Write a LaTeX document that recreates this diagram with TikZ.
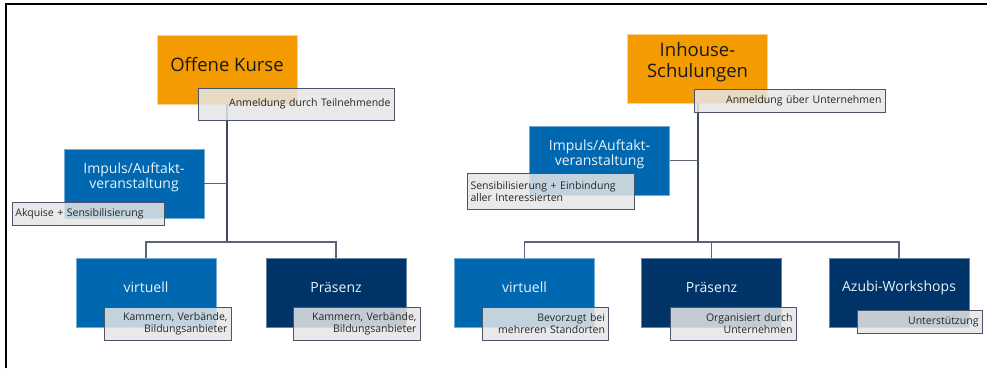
\documentclass[tikz,border=0pt]{standalone}
\usepackage{fontspec}
\setmainfont{Open Sans}
\definecolor{kursorange}{HTML}{F39B00}
\definecolor{kursblau}{HTML}{0067B1}
\definecolor{kursnavy}{HTML}{003469}
\definecolor{notizgrau}{HTML}{E6E6E6}
\definecolor{notizrand}{HTML}{4B5468}
\definecolor{linie}{HTML}{3E4A5C}
\definecolor{astlinie}{HTML}{5C6573}
\tikzset{
  box/.style={rectangle, minimum width=140pt, minimum height=69pt, inner sep=0pt},
  topbox/.style={box, fill=kursorange, draw=kursorange!45!white, line width=0.8pt},
  bluebox/.style={box, fill=kursblau, draw=kursblau!55!white, line width=0.8pt},
  navybox/.style={box, fill=kursnavy, draw=kursnavy!60!white, line width=0.8pt},
  toptext/.style={font=\fontsize{18.5}{21}\selectfont, text=black!90, align=center, inner sep=0pt},
  boxtext/.style={font=\fontsize{14}{15}\selectfont, text=white!92!kursblau, align=center, inner sep=0pt},
  note/.style={rectangle, fill=notizgrau, fill opacity=0.85, text opacity=1, draw=notizrand,
    line width=1pt, inner xsep=3.5pt, inner ysep=0pt, text=black!85,
    font=\fontsize{10.5}{12}\selectfont},
  noteR/.style={note, align=right},
  noteL/.style={note, align=left},
  trunk/.style={draw=linie, line width=2pt},
  branch/.style={draw=astlinie, line width=1.2pt},
}
\begin{document}
\begin{tikzpicture}[x=1pt, y=-1pt]
\useasboundingbox (0,0) rectangle (987,368);
\fill[white] (0,0) rectangle (987,368);

% anchor points of the horizontal bars
\coordinate (barL) at (227,242);
\coordinate (barR) at (697.5,242);

% ---------- Offene Kurse: boxes ----------
\node[topbox, label={[toptext, yshift=5pt, name=okT]center:Offene Kurse}] (ok) at (227,69.5) {};
\node[bluebox, label={[boxtext, yshift=6pt, name=impLT]center:Impuls/Auftakt-\\veranstaltung}] (impL) at (134,183.5) {};
\node[bluebox, label={[boxtext, yshift=5pt, name=virLT]center:virtuell}] (virL) at (146,292.5) {};
\node[navybox, label={[boxtext, yshift=5pt, name=praLT]center:Präsenz}] (praL) at (336,292.5) {};

% ---------- Inhouse-Schulungen: boxes ----------
\node[topbox, label={[toptext, yshift=6pt, name=ihT]center:Inhouse-\\Schulungen}] (ih) at (697.5,68.5) {};
\node[bluebox, label={[boxtext, yshift=6pt, name=impRT]center:Impuls/Auftakt-\\veranstaltung}] (impR) at (599.5,160.5) {};
\node[bluebox, label={[boxtext, yshift=5pt, name=virRT]center:virtuell}] (virR) at (524.5,292.5) {};
\node[navybox, label={[boxtext, yshift=5pt, name=praRT]center:Präsenz}] (praR) at (711.5,292.5) {};
\node[navybox, label={[boxtext, yshift=5pt, name=azuT]center:Azubi-Workshops}] (azu) at (899,292.5) {};

% ---------- connectors (drawn over boxes, under notes) ----------
\draw[trunk] (ok.south) -- (barL);
\draw[branch] (impL.east) -- (impL.east -| barL);
\draw[branch] (virL.north) |- (barL) -| (praL.north);

\draw[trunk] (ih.south) -- (barR);
\draw[branch] (impR.east) -- (impR.east -| barR);
\draw[branch] (virR.north) |- (barR) -| (azu.north);
\draw[branch] (praR.north) -- (praR.north |- barR);

% ---------- notes ----------
\node[noteR, minimum width=196pt, minimum height=32pt, text width=189pt] (okN) at (296,104) {Anmeldung durch Teilnehmende};
\node[noteL, minimum width=152pt, minimum height=23pt, text width=145pt] (impLN) at (88,213.5) {Akquise + Sensibilisierung};
\node[noteR, minimum width=127pt, minimum height=33pt, text width=120pt] (virLN) at (167.5,323.5) {Kammern, Verbände,\\Bildungsanbieter};
\node[noteR, minimum width=127pt, minimum height=33pt, text width=120pt] (praLN) at (356.5,323.5) {Kammern, Verbände,\\Bildungsanbieter};

\node[noteR, minimum width=191pt, minimum height=23pt, text width=184pt] (ihN) at (789.5,100.5) {Anmeldung über Unternehmen};
\node[noteL, minimum width=167pt, minimum height=36pt, text width=160pt] (impRN) at (550.5,191.5) {Sensibilisierung + Einbindung\\aller Interessierten};
\node[noteR, minimum width=126pt, minimum height=33pt, text width=119pt] (virRN) at (545.5,323.5) {Bevorzugt bei\\mehreren Standorten};
\node[noteR, minimum width=126pt, minimum height=33pt, text width=119pt] (praRN) at (733,323.5) {Organisiert durch\\Unternehmen};
\node[noteR, minimum width=125pt, minimum height=23pt, text width=118pt] (azuN) at (919.5,321.5) {Unterstützung};

% ---------- frame ----------
\draw[black, line width=1.5pt] (6,368) -- (6,4) -- (987,4);
\end{tikzpicture}
\end{document}
